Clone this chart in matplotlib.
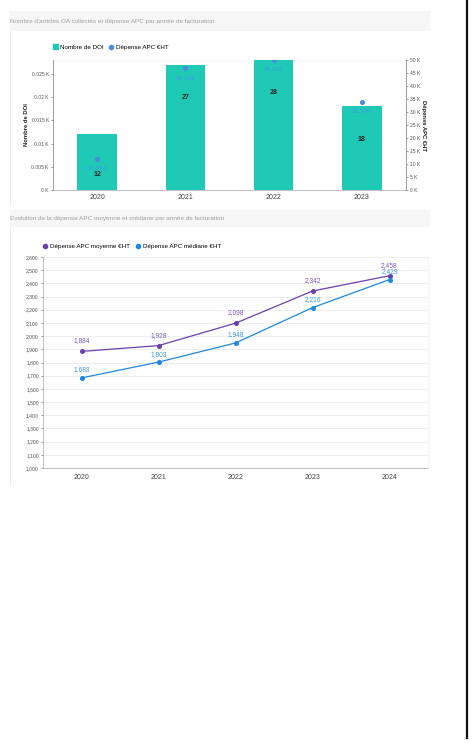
import matplotlib
matplotlib.use("Agg")
import matplotlib.pyplot as plt
from matplotlib.patches import Rectangle
from matplotlib.lines import Line2D

plt.rcParams['font.family'] = ['Liberation Sans', 'DejaVu Sans']

# ---------- data ----------
years_bar = ["2020", "2021", "2022", "2023"]
doi_counts = [12, 27, 28, 18]
apc_totals = [11854, 46732, 49952, 33776]
count_label_frac = [0.28, 0.74, 0.75, 0.6]

years_line = ["2020", "2021", "2022", "2023", "2024"]
apc_mean = [1884, 1928, 2098, 2342, 2458]
apc_median = [1683, 1803, 1948, 2216, 2429]

left_ticks = [0, 5, 10, 15, 20, 25]
left_labels = ["0 K", "0.005 K", "0.01 K", "0.015 K", "0.02 K", "0.025 K"]
right_ticks = list(range(0, 50001, 5000))
right_labels = [f"{t // 1000} K" for t in right_ticks]
line_ticks = list(range(1000, 2601, 100))

title1 = "Nombre d'articles OA collectés et dépense APC par année de facturation"
title2 = "Evolution de la dépense APC moyenne et médiane par année de facturation"

TEAL = "#1fc9b5"
DOT = "#4a8fdc"
BLUE_TXT = "#3e9be6"
PURPLE = "#6a40b0"
PURPLE_TXT = "#7f5bc4"
MBLUE = "#1e88e5"

W, H = 473, 743
fig = plt.figure(figsize=(W / 100, H / 100), dpi=100)
fig.patch.set_facecolor("white")

def fx(px): return px / W
def fy(py): return 1 - py / H

# panel decorations
for (y0, y1) in [(11, 31), (210, 227)]:
    fig.patches.append(Rectangle((fx(10), fy(y1)), fx(430) - fx(10), fy(y0) - fy(y1),
                                 transform=fig.transFigure, facecolor="#f6f6f6",
                                 edgecolor="none", zorder=0))
fig.text(fx(10), fy(21), title1, fontsize=4.6, color="#a0a0a0", va="center", ha="left")
fig.text(fx(10), fy(218.5), title2, fontsize=4.6, color="#a0a0a0", va="center", ha="left")
fig.lines.append(Line2D([fx(10), fx(10)], [fy(31), fy(205)], transform=fig.transFigure,
                        color="#ececec", lw=0.8))
fig.lines.append(Line2D([fx(10), fx(10)], [fy(227), fy(485)], transform=fig.transFigure,
                        color="#ececec", lw=0.8))
# black vertical line at right
fig.lines.append(Line2D([fx(466.5), fx(466.5)], [fy(0), fy(738)], transform=fig.transFigure,
                        color="#111111", lw=1.6))

# ---------- top chart ----------
ax1 = fig.add_axes([fx(53), fy(190), fx(406) - fx(53), fy(60) - fy(190)])
xs = list(range(len(years_bar)))
ax1.bar(xs, doi_counts, width=0.45, color=TEAL, zorder=2, label="Nombre de DOI")
ax1.set_xlim(-0.5, len(years_bar) - 0.5)
ax1.set_ylim(0, max(doi_counts))
ax1.set_yticks(left_ticks)
ax1.set_yticklabels(left_labels)
ax1.set_xticks(xs)
ax1.set_xticklabels(years_bar)
ax1.tick_params(axis="y", labelsize=3.6, colors="#555555", length=1.5, width=0.4, pad=1.5)
ax1.tick_params(axis="x", labelsize=5, colors="#444444", length=0, pad=3)
ax1.set_ylabel("Nombre de DOI", fontsize=4.2, fontweight="bold", labelpad=1.5, color="#222222")
for s in ["top", "right"]:
    ax1.spines[s].set_visible(False)
ax1.spines["left"].set_color("#777777")
ax1.spines["left"].set_linewidth(0.5)
ax1.spines["bottom"].set_color("#aaaaaa")
ax1.spines["bottom"].set_linewidth(0.5)
ax1.axhline(max(doi_counts), color="#eeeeee", lw=0.5, zorder=0)
for x, c, f in zip(xs, doi_counts, count_label_frac):
    ax1.text(x, c * f, str(c), ha="center", va="center", fontsize=5,
             fontweight="bold", color="#222222", zorder=5)

ax1r = ax1.twinx()
ax1r.scatter(xs, apc_totals, s=7, color=DOT, zorder=4, label="Dépense APC €HT")
ax1r.set_ylim(0, 50000)
ax1r.set_yticks(right_ticks)
ax1r.set_yticklabels(right_labels)
ax1r.tick_params(axis="y", labelsize=3.6, colors="#555555", length=1.5, width=0.4, pad=1.5)
ax1r.set_ylabel("Dépense APC €HT", fontsize=4.2, fontweight="bold", rotation=-90,
                labelpad=4, color="#222222")
for s in ["top", "left", "bottom"]:
    ax1r.spines[s].set_visible(False)
ax1r.spines["right"].set_color("#777777")
ax1r.spines["right"].set_linewidth(0.5)
for x, v in zip(xs, apc_totals):
    ax1r.annotate(f"{v:,}", (x, v), xytext=(0, -6.5), textcoords="offset points",
                  ha="center", va="center", fontsize=4.6, color=BLUE_TXT, zorder=5)

h1 = [Rectangle((0, 0), 1, 1, color=TEAL),
      Line2D([], [], marker="o", ls="", color=DOT, markersize=3)]
fig.legend(h1, ["Nombre de DOI", "Dépense APC €HT"], loc="center left",
           bbox_to_anchor=(fx(47), fy(47)), ncol=2, frameon=False, fontsize=4.5,
           handlelength=0.8, handleheight=0.8, handletextpad=0.4, columnspacing=0.8)

# ---------- bottom chart ----------
ax2 = fig.add_axes([fx(43), fy(468), fx(428) - fx(43), fy(257) - fy(468)])
xl = list(range(len(years_line)))
ax2.plot(xl, apc_mean, color=PURPLE, lw=0.9, marker="o", markersize=2.6, zorder=3)
ax2.plot(xl, apc_median, color=MBLUE, lw=0.9, marker="o", markersize=2.6, zorder=3)
ax2.set_xlim(-0.5, len(years_line) - 0.5)
ax2.set_ylim(line_ticks[0], line_ticks[-1])
ax2.set_yticks(line_ticks)
ax2.set_yticklabels([f"{t:,}" for t in line_ticks])
ax2.set_xticks(xl)
ax2.set_xticklabels(years_line)
ax2.grid(axis="y", color="#e8e8e8", lw=0.5, zorder=0)
ax2.tick_params(axis="y", labelsize=3.6, colors="#555555", length=1.5, width=0.4, pad=1.5)
ax2.tick_params(axis="x", labelsize=5, colors="#444444", length=0, pad=4)
for s in ["top", "right"]:
    ax2.spines[s].set_color("#eeeeee")
    ax2.spines[s].set_linewidth(0.5)
ax2.spines["left"].set_color("#aaaaaa")
ax2.spines["left"].set_linewidth(0.5)
ax2.spines["bottom"].set_color("#aaaaaa")
ax2.spines["bottom"].set_linewidth(0.5)
for x, v in zip(xl, apc_mean):
    ax2.annotate(f"{v:,}", (x, v), xytext=(0, 7.5), textcoords="offset points",
                 ha="center", va="center", fontsize=4.8, color=PURPLE_TXT)
for x, v in zip(xl, apc_median):
    ax2.annotate(f"{v:,}", (x, v), xytext=(0, 5.8), textcoords="offset points",
                 ha="center", va="center", fontsize=4.8, color=BLUE_TXT)

h2 = [Line2D([], [], marker="o", ls="", color=PURPLE, markersize=3),
      Line2D([], [], marker="o", ls="", color=MBLUE, markersize=3)]
fig.legend(h2, ["Dépense APC moyenne €HT", "Dépense APC médiane €HT"], loc="center left",
           bbox_to_anchor=(fx(37), fy(246)), ncol=2, frameon=False, fontsize=4.5,
           handlelength=0.8, handletextpad=0.4, columnspacing=0.8)

fig.savefig("out.png", dpi=100, facecolor="white")
